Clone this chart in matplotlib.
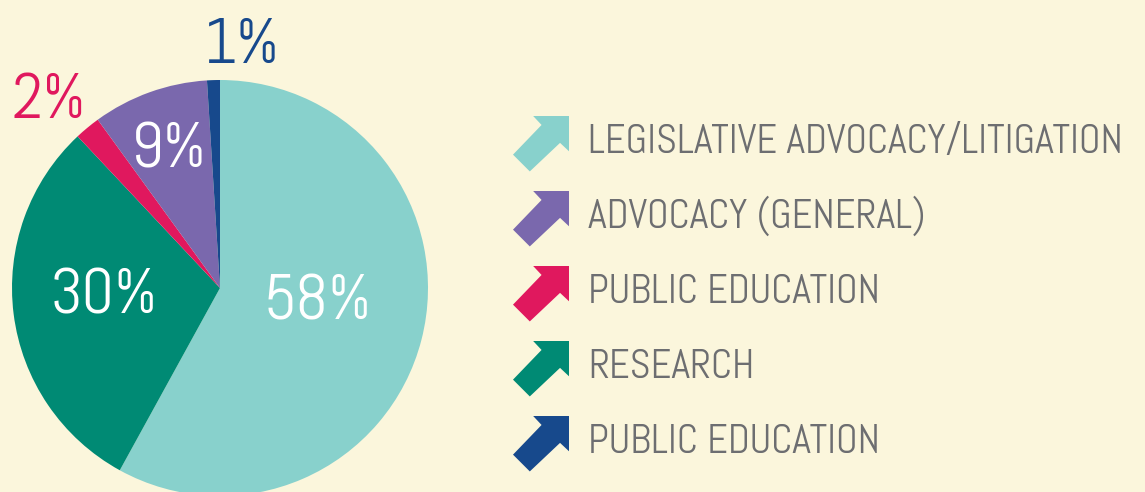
import matplotlib
matplotlib.use("Agg")
import matplotlib.pyplot as plt
from matplotlib.patches import Polygon

# data (pie goes clockwise from 12 o'clock)
slice_names = ["LEGISLATIVE ADVOCACY/LITIGATION", "RESEARCH", "PUBLIC EDUCATION",
               "ADVOCACY (GENERAL)", "PUBLIC EDUCATION"]
shares = [58, 30, 2, 9, 1]
slice_colors = ["#88d1cc", "#008a74", "#e0185e", "#7a68ad", "#17498c"]
legend_order = [0, 3, 2, 1, 4]

BG = "#fbf6dc"
GREY = "#6d6e71"
FONT = "Abel"
W, H = 1145, 492

fig = plt.figure(figsize=(W / 100, H / 100), dpi=100)
fig.patch.set_facecolor(BG)

# pie axes placed in pixels: centre (220, 288), radius 208
cx, cy, r = 220, 288, 208
ax = fig.add_axes([(cx - r) / W, (H - cy - r) / H, 2 * r / W, 2 * r / H])
ax.pie(shares, colors=slice_colors, startangle=90, counterclock=False, radius=1,
       wedgeprops=dict(linewidth=0))
ax.set_xlim(-1, 1)
ax.set_ylim(-1, 1)
ax.set_aspect("auto")
ax.axis("off")

# overlay in pixel coords for labels + legend
ov = fig.add_axes([0, 0, 1, 1])
ov.set_xlim(0, W)
ov.set_ylim(H, 0)
ov.axis("off")
ov.patch.set_alpha(0)

# percentage labels: (left x, baseline y, colour)
label_pos = [(264, 320, "white"), (50, 314, "white"), (12, 118, slice_colors[2]),
             (131, 167, "white"), (204, 63, slice_colors[4])]
for val, (x, y, c) in zip(shares, label_pos):
    ov.text(x, y, f"{val}%", family=FONT, fontsize=46, color=c, ha="left", va="baseline")

# arrow icon, unit square (y down)
arrow = [(1, 0), (0.36, 0), (0.51, 0.16), (0, 0.69), (0.30, 0.99), (0.84, 0.48), (1, 0.63)]
size = 56
for row, i in enumerate(legend_order):
    base = 153 + 75 * row
    top = base - 37
    pts = [(513 + px * size, top + py * size) for px, py in arrow]
    ov.add_patch(Polygon(pts, closed=True, facecolor=slice_colors[i], edgecolor="none"))
    ov.text(588, base, slice_names[i], family=FONT, fontsize=29, color=GREY,
            ha="left", va="baseline")

fig.savefig("out.png", dpi=100, facecolor=BG)
